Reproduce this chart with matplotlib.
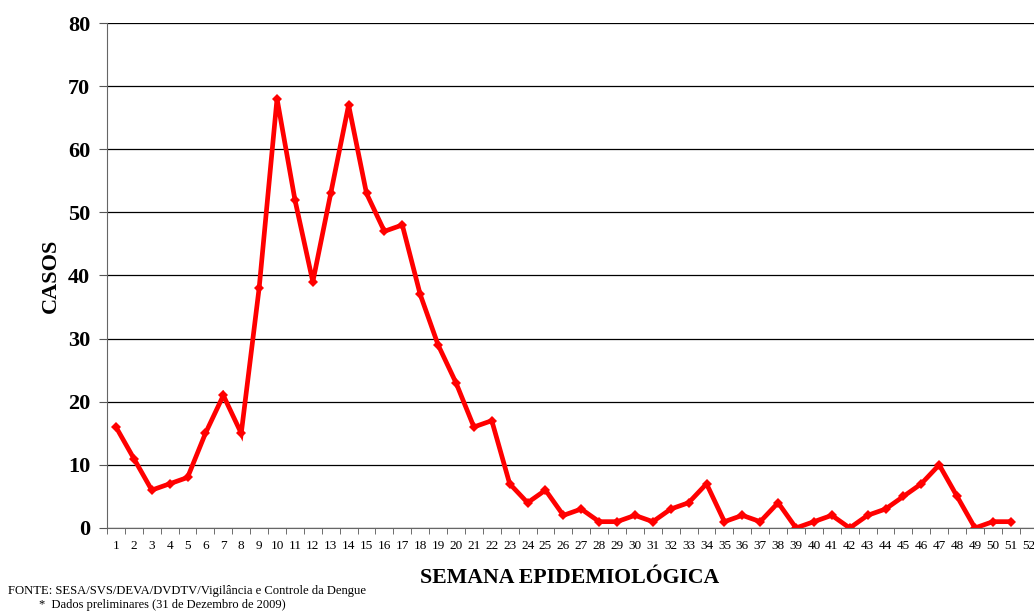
import matplotlib
matplotlib.use('Agg')
import matplotlib.pyplot as plt
from matplotlib.ticker import FixedLocator, NullFormatter

plt.rcParams['font.family'] = ['Liberation Serif', 'DejaVu Serif']

# semanas epidemiologicas e casos
semanas = list(range(1, 53))
casos = [16, 11, 6, 7, 8, 15, 21, 15, 38, 68, 52, 39, 53, 67, 53, 47, 48, 37, 29, 23,
         16, 17, 7, 4, 6, 2, 3, 1, 1, 2, 1, 3, 4, 7, 1, 2, 1, 4, 0, 1,
         2, 0, 2, 3, 5, 7, 10, 5, 0, 1, 1]
y_ticks = [0, 10, 20, 30, 40, 50, 60, 70, 80]

fig = plt.figure(figsize=(10.34, 6.12), dpi=100)
ax = fig.add_axes([0.1035, 0.1373, 0.9, 0.8251])

ax.plot(semanas[:len(casos)], casos, color='#ff0000', linewidth=3.4,
        marker='D', markersize=5, markeredgewidth=0, solid_joinstyle='miter')

ax.set_xlim(0.5, 52.5)
ax.set_ylim(0, 80)
ax.set_yticks(y_ticks)
ax.set_yticklabels([str(v) for v in y_ticks], fontsize=16, fontweight='bold')
ax.yaxis.grid(True, color='black', linewidth=0.9)
ax.set_axisbelow(True)

ax.set_xticks(semanas)
ax.set_xticklabels([str(s) for s in semanas], fontsize=9.5)
ax.tick_params(axis='x', which='major', length=0, pad=9)
ax.xaxis.set_minor_locator(FixedLocator([s + 0.5 for s in range(0, 53)]))
ax.xaxis.set_minor_formatter(NullFormatter())
ax.tick_params(axis='x', which='minor', length=4, color='#555555')
ax.tick_params(axis='y', length=6, color='#555555', pad=6)

for side in ['top', 'right']:
    ax.spines[side].set_visible(False)
ax.spines['left'].set_color('#666666')
ax.spines['bottom'].set_color('#666666')

ax.set_ylabel('CASOS', fontsize=16, fontweight='bold', labelpad=5)
fig.text(0.551, 0.055, 'SEMANA EPIDEMIOLÓGICA', fontsize=15.7, fontweight='bold',
         ha='center', va='center')
fig.text(0.008, 0.034, 'FONTE: SESA/SVS/DEVA/DVDTV/Vigilância e Controle da Dengue',
         fontsize=9.1, va='center')
fig.text(0.038, 0.011, '*  Dados preliminares (31 de Dezembro de 2009)',
         fontsize=9, va='center')

fig.savefig('out.png', dpi=100)
